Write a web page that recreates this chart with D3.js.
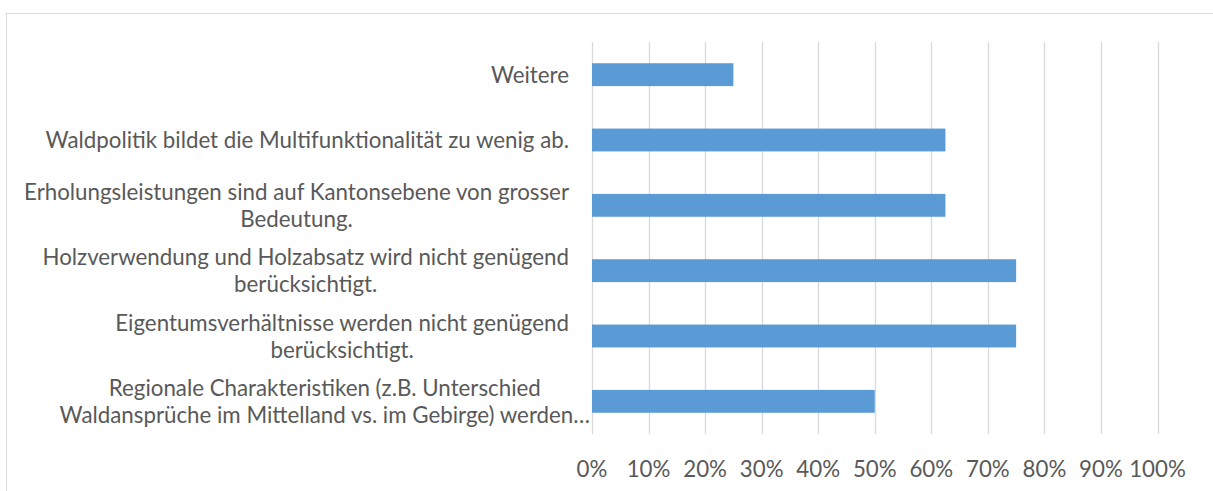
<!DOCTYPE html>
<html>
<head>
<meta charset="utf-8">
<script src="https://cdn.jsdelivr.net/npm/d3@7"></script>
<style>
  html, body { margin: 0; padding: 0; background: #fff; }
  svg { display: block; }
  text { font-family: Lato, "Open Sans", sans-serif; fill: #595959; }
</style>
</head>
<body>
<svg id="chart" width="1213" height="491"></svg>
<script>
// Categories (top to bottom), each split into its displayed lines
const categories = [
  ["Weitere"],
  ["Waldpolitik bildet die Multifunktionalität zu wenig ab."],
  ["Erholungsleistungen sind auf Kantonsebene von grosser", "Bedeutung."],
  ["Holzverwendung und Holzabsatz wird nicht genügend", "berücksichtigt."],
  ["Eigentumsverhältnisse werden nicht genügend", "berücksichtigt."],
  ["Regionale Charakteristiken (z.B. Unterschied", "Waldansprüche im Mittelland vs. im Gebirge) werden…"]
];
const values = [0.25, 0.625, 0.625, 0.75, 0.75, 0.50];
const tickValues = [0, 0.1, 0.2, 0.3, 0.4, 0.5, 0.6, 0.7, 0.8, 0.9, 1.0];
const tickLabels = ["0%", "10%", "20%", "30%", "40%", "50%", "60%", "70%", "80%", "90%", "100%"];

const svg = d3.select("#chart");
const fontSize = 22.3;
const lineHeight = 27;

// chart area border
svg.append("rect")
  .attr("x", 6.5).attr("y", 13.5)
  .attr("width", 1300).attr("height", 600)
  .attr("fill", "none").attr("stroke", "#D9D9D9").attr("stroke-width", 1);

const x = d3.scaleLinear().domain([0, 1]).range([592, 1157.5]);
const y = d3.scaleBand()
  .domain(d3.range(categories.length))
  .range([42, 434])
  .paddingInner(0.65)
  .paddingOuter(0.325);

// gridlines
svg.append("g").selectAll("line")
  .data(tickValues)
  .join("line")
  .attr("x1", d => Math.round(x(d)) + 0.5)
  .attr("x2", d => Math.round(x(d)) + 0.5)
  .attr("y1", 42).attr("y2", 434)
  .attr("stroke", "#D9D9D9").attr("stroke-width", 1.3);

// bars
svg.append("g").selectAll("rect")
  .data(values)
  .join("rect")
  .attr("x", x(0))
  .attr("y", (d, i) => y(i))
  .attr("width", d => x(d) - x(0))
  .attr("height", y.bandwidth())
  .attr("fill", "#5B9BD5");

// x tick labels
svg.append("g").selectAll("text")
  .data(tickValues)
  .join("text")
  .attr("x", d => x(d))
  .attr("y", 477)
  .attr("text-anchor", "middle")
  .attr("font-size", fontSize)
  .text((d, i) => tickLabels[i]);

// category labels: block right-aligned, lines centered within block
const labelRight = 569;
const labelG = svg.append("g");
categories.forEach((lines, i) => {
  const g = labelG.append("g");
  const texts = g.selectAll("text")
    .data(lines)
    .join("text")
    .attr("font-size", fontSize)
    .text(d => d);
  const widths = [];
  texts.each(function() { widths.push(this.getComputedTextLength()); });
  const maxW = d3.max(widths);
  const right = (i === categories.length - 1) ? labelRight + 21 : labelRight;
  const cx = right - maxW / 2;
  const cy = y(i) + y.bandwidth() / 2;
  const n = lines.length;
  texts
    .attr("x", cx)
    .attr("text-anchor", "middle")
    .attr("y", (d, j) => cy + (j - (n - 1) / 2) * lineHeight)
    .attr("dy", "0.36em");
});
</script>
</body>
</html>
